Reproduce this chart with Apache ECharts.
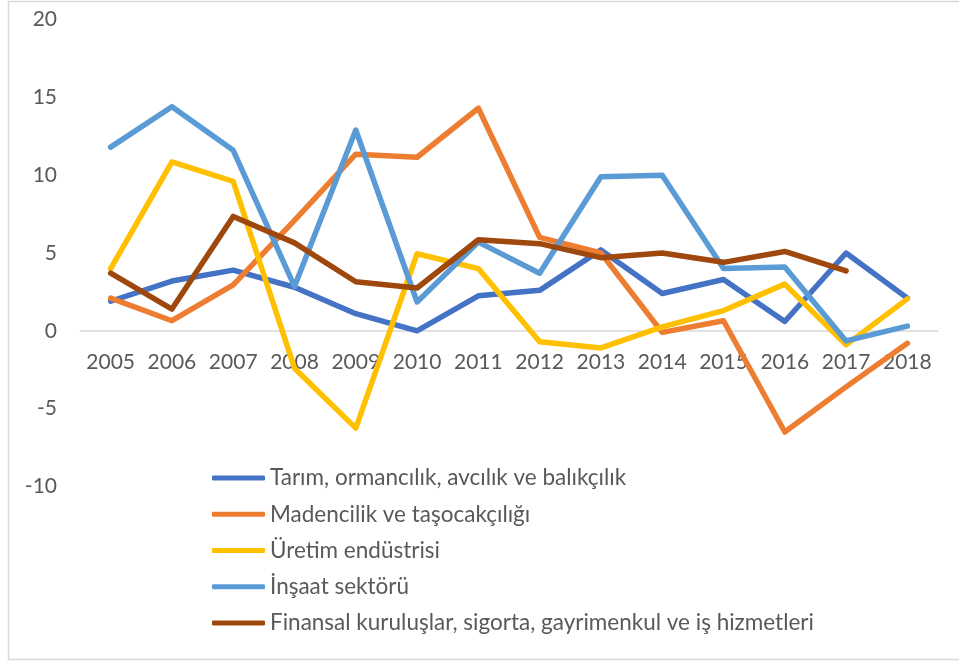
<!DOCTYPE html>
<html>
<head>
<meta charset="utf-8">
<script src="https://cdn.jsdelivr.net/npm/echarts@6/dist/echarts.min.js"></script>
<style>
html,body{margin:0;padding:0;background:#fff;}
#chart{width:959px;height:661px;}
</style>
</head>
<body>
<div id="chart"></div>
<script>
var years = ['2005','2006','2007','2008','2009','2010','2011','2012','2013','2014','2015','2016','2017','2018'];
var seriesNames = [
  'Tarım, ormancılık, avcılık ve balıkçılık',
  'Madencilik ve taşocakçılığı',
  'Üretim endüstrisi',
  'İnşaat sektörü',
  'Finansal kuruluşlar, sigorta, gayrimenkul ve iş hizmetleri'
];
var tarim     = [1.9, 3.2, 3.9, 2.8, 1.1, 0.0, 2.25, 2.6, 5.2, 2.4, 3.3, 0.6, 5.0, 2.1];
var madencilik= [2.1, 0.65, 2.95, 7.1, 11.35, 11.15, 14.3, 6.0, 5.0, -0.1, 0.65, -6.5, -3.6, -0.8];
var uretim    = [4.0, 10.85, 9.6, -2.4, -6.25, 4.95, 4.0, -0.7, -1.1, 0.25, 1.3, 3.0, -0.9, 2.05];
var insaat    = [11.8, 14.4, 11.6, 2.85, 12.9, 1.85, 5.7, 3.7, 9.9, 10.0, 4.0, 4.1, -0.65, 0.3];
var finansal  = [3.7, 1.4, 7.35, 5.65, 3.15, 2.75, 5.85, 5.6, 4.7, 5.0, 4.4, 5.1, 3.85, null];
var colors = ['#4472C4', '#ED7D31', '#FFC000', '#5B9BD5', '#9E480E'];
var dataSets = [tarim, madencilik, uretim, insaat, finansal];

var chart = echarts.init(document.getElementById('chart'));
var FONT = 'Lato';
var series = dataSets.map(function (d, i) {
  return {
    name: seriesNames[i],
    type: 'line',
    data: d,
    symbol: 'none',
    connectNulls: false,
    lineStyle: { color: colors[i], width: 5.5, join: 'round', cap: 'round' },
    itemStyle: { color: colors[i] }
  };
});

chart.setOption({
  animation: false,
  backgroundColor: '#fff',
  color: colors,
  graphic: [{
    type: 'rect',
    shape: { x: 8.5, y: 1.5, width: 1000, height: 658 },
    style: { fill: 'none', stroke: '#d9d9d9', lineWidth: 1.5 },
    silent: true
  }],
  grid: { left: 80, right: 21, top: 19.5, bottom: 174.5, containLabel: false },
  legend: {
    orient: 'vertical',
    left: 212,
    top: 465,
    padding: 0,
    itemWidth: 53,
    itemHeight: 5,
    itemGap: 10.25,
    icon: 'roundRect',
    textStyle: { fontFamily: FONT, fontSize: 22.5, color: '#595959', lineHeight: 26 },
    data: seriesNames
  },
  xAxis: {
    type: 'category',
    data: years,
    boundaryGap: true,
    axisLine: { onZero: true, lineStyle: { color: '#d9d9d9', width: 1.5 } },
    axisTick: { show: false },
    axisLabel: { interval: 0, fontFamily: FONT, fontSize: 21, color: '#595959', margin: -135 },
    splitLine: { show: false }
  },
  yAxis: {
    type: 'value',
    min: -10,
    max: 20,
    interval: 5,
    axisLine: { show: false },
    axisTick: { show: false },
    splitLine: { show: false },
    axisLabel: { fontFamily: FONT, fontSize: 21, color: '#595959', margin: 23 }
  },
  series: series
});
</script>
</body>
</html>
